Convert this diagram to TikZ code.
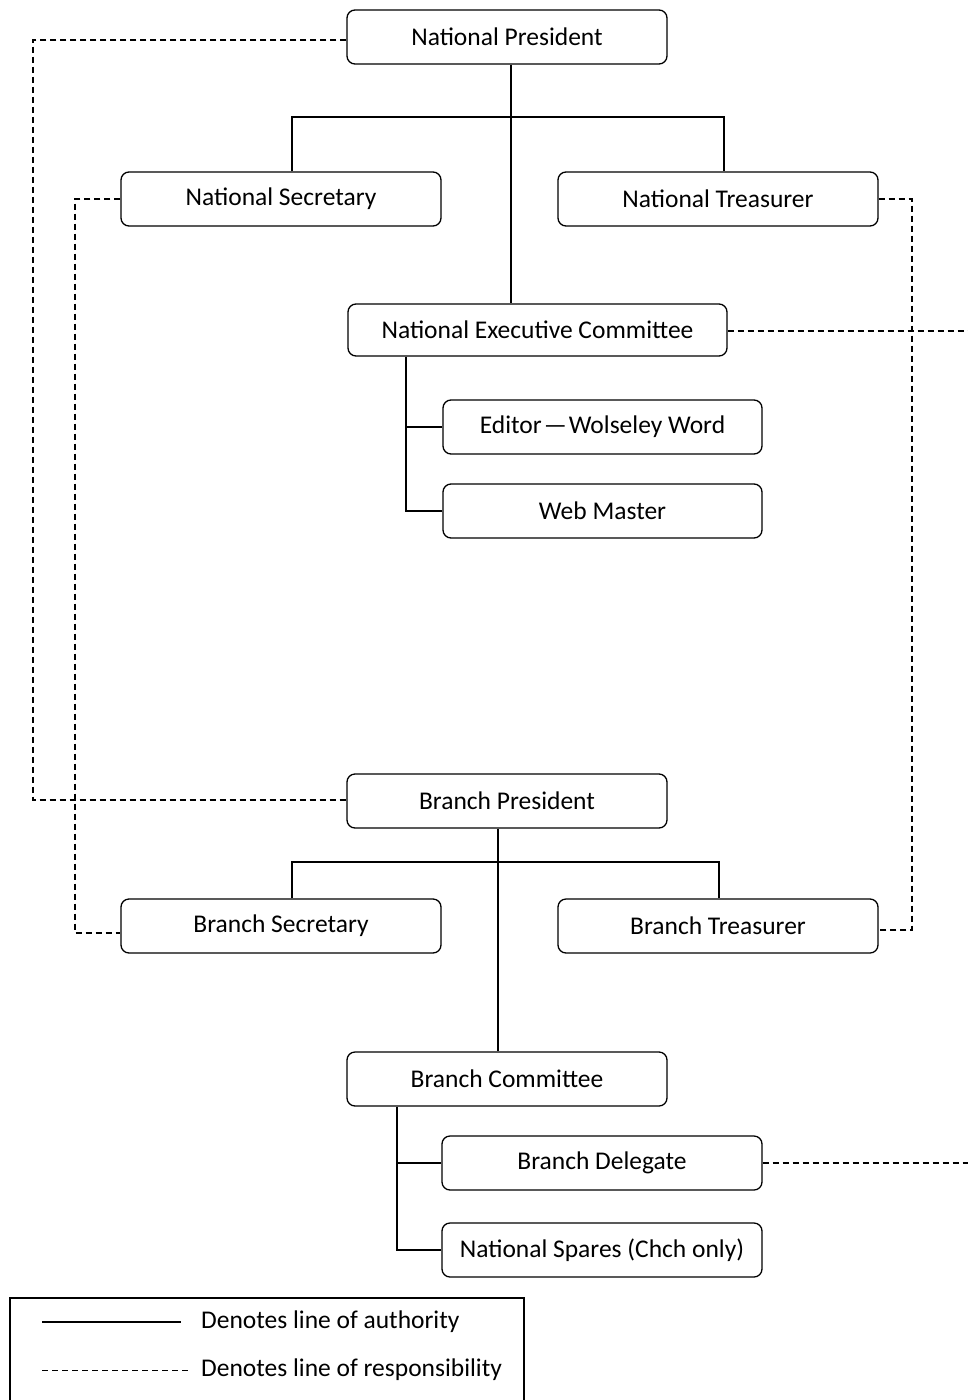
\documentclass[tikz,border=0pt]{standalone}
\usepackage{fontspec}
\setmainfont{Carlito}
\begin{document}
\begin{tikzpicture}[x=1pt,y=-1pt,
  box/.style={draw, line width=1.3pt, rounded corners=8pt, minimum width=320pt, minimum height=54pt, inner sep=0pt, font=\fontsize{25.5}{29}\selectfont},
  auth/.style={line width=1.3pt},
  resp/.style={line width=1.3pt, dash pattern=on 6pt off 4pt},
  lbl/.style={anchor=west, inner sep=0pt, font=\fontsize{25.5}{29}\selectfont}]
\useasboundingbox (0,0) rectangle (968,1400);
\clip (0,0) rectangle (968,1400);
\fill[white] (0,0) rectangle (968,1400);

% nodes
\node[box] (np)  at (507,37)  {National President};
\node[box] (ns)  at (281,199) {National Secretary};
\node[box] (nt)  at (718,199) {National Treasurer};
\node[box, minimum width=379pt, minimum height=52pt] (nec) at (537.5,330) {National Executive Committee};
\node[box, minimum width=319pt] (ed) at (602.5,427) {Editor\hspace{2pt}—\hspace{2pt}Wolseley Word};
\node[box, minimum width=319pt] (wm) at (602.5,511) {Web Master};
\node[box] (bp)  at (507,801) {Branch President};
\node[box] (bs)  at (281,926) {Branch Secretary};
\node[box] (bt)  at (718,926) {Branch Treasurer};
\node[box] (bc)  at (507,1079) {Branch Committee};
\node[box] (bd)  at (602,1163) {Branch Delegate};
\node[box] (sp)  at (602,1250) {National Spares (Chch only)};

% free ends
\coordinate (necR) at (968,331);
\coordinate (bdR) at (968,1163);

% authority lines
\draw[auth] (np.south -| 511,0) -- (nec.north -| 511,0);
\draw[auth] (ns.north -| 292,0) -- (292,117) -- (724,117) -- (nt.north -| 724,0);
\draw[auth] (nec.south -| 406,0) -- (406,511) -- (wm.west);
\draw[auth] (406,427) -- (ed.west);
\draw[auth] (bp.south -| 498,0) -- (bc.north -| 498,0);
\draw[auth] (bs.north -| 292,0) -- (292,862) -- (719,862) -- (bt.north -| 719,0);
\draw[auth] (bc.south -| 397,0) -- (397,1250) -- (sp.west);
\draw[auth] (397,1163) -- (bd.west);

% responsibility lines
\draw[resp] (np.west |- 0,40) -- (33,40) -- (33,800) -- (bp.west |- 0,800);
\draw[resp] (ns.west) -- (75,199) -- (75,933) -- (bs.west |- 0,933);
\draw[resp] (nt.east) -- (912,199) -- (912,930) -- (bt.east |- 0,930);
\draw[resp] (nec.east |- 0,331) -- (necR);
\draw[resp] (bd.east) -- (bdR);

% legend
\draw[line width=1.3pt] (10,1298) rectangle (524,1405);
\coordinate (la1) at (42,1322);
\coordinate (la2) at (181,1322);
\coordinate (lr1) at (42,1370);
\coordinate (lr2) at (189,1370);
\draw[auth] (la1) -- (la2);
\draw[line width=1pt, dash pattern=on 6pt off 4pt] (lr1) -- (lr2);
\node[lbl] (lt1) at (201,1322) {Denotes line of authority};
\node[lbl] (lt2) at (201,1370) {Denotes line of responsibility};
\end{tikzpicture}
\end{document}
